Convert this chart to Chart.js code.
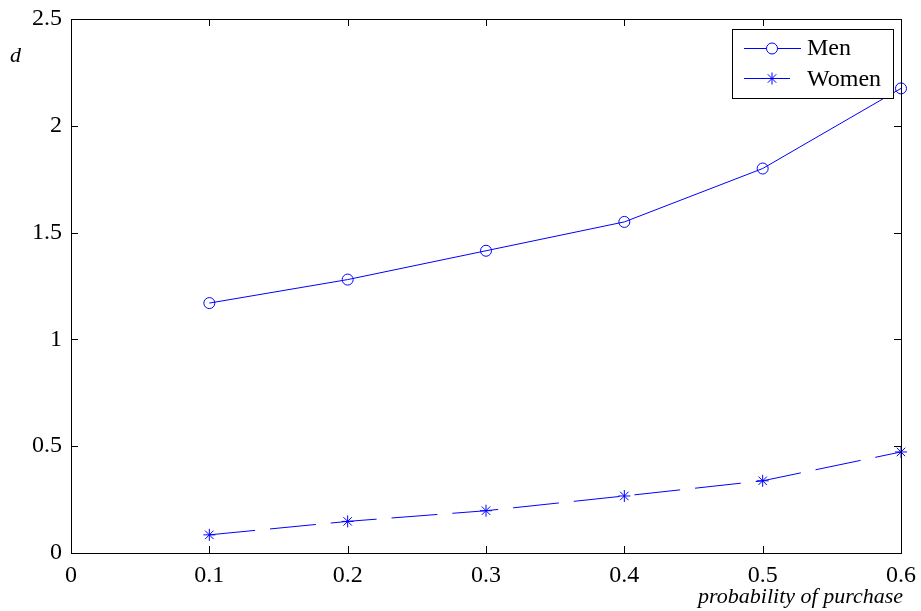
<!DOCTYPE html>
<html>
<head>
<meta charset="utf-8">
<script src="https://cdn.jsdelivr.net/npm/chart.js@4"></script>
<style>
  body { margin: 0; background: #fff; }
  #wrap { width: 921px; height: 611px; }
</style>
</head>
<body>
<div id="wrap"><canvas id="dChart" width="921" height="611"></canvas></div>
<script>
// data
const probs = [0.1, 0.2, 0.3, 0.4, 0.5, 0.6];
const menValues = [1.17, 1.28, 1.415, 1.55, 1.80, 2.175];
const womenValues = [0.085, 0.148, 0.198, 0.267, 0.338, 0.473];
const xTicks = [0, 0.1, 0.2, 0.3, 0.4, 0.5, 0.6];
const yTicks = [0, 0.5, 1, 1.5, 2, 2.5];

const BLUE = '#0000ff';
const SERIF = '"Liberation Serif", "Times New Roman", serif';

function toPoints(xs, ys) {
    return xs.map((x, i) => ({ x: x, y: ys[i] }));
}

// no extra padding for edge labels, chart area set by layout.padding only
function noEdgePadding(s) {
    s.paddingTop = 0;
    s.paddingBottom = 0;
    s.paddingLeft = 0;
    s.paddingRight = 0;
}

// frame, inward ticks, axis labels, legend (MATLAB look)
const matlabFrame = {
    id: 'matlabFrame',
    afterDraw(chart) {
        const ctx = chart.ctx;
        const a = chart.chartArea;
        const sx = chart.scales.x, sy = chart.scales.y;
        const tl = 7;

        ctx.save();
        ctx.strokeStyle = '#000';
        ctx.lineWidth = 1;
        ctx.beginPath();
        xTicks.forEach(v => {
            const px = Math.round(sx.getPixelForValue(v)) + 0.5;
            ctx.moveTo(px, a.bottom); ctx.lineTo(px, a.bottom - tl);
            ctx.moveTo(px, a.top); ctx.lineTo(px, a.top + tl);
        });
        yTicks.forEach(v => {
            const py = Math.round(sy.getPixelForValue(v)) + 0.5;
            ctx.moveTo(a.left, py); ctx.lineTo(a.left + tl, py);
            ctx.moveTo(a.right, py); ctx.lineTo(a.right - tl, py);
        });
        ctx.stroke();
        ctx.strokeRect(Math.round(a.left) + 0.5, Math.round(a.top) + 0.5,
                       Math.round(a.right - a.left), Math.round(a.bottom - a.top));

        // axis labels
        ctx.fillStyle = '#000';
        ctx.font = 'italic 22px ' + SERIF;
        ctx.textAlign = 'left';
        ctx.textBaseline = 'middle';
        ctx.fillText('d', 10, 56);
        ctx.textAlign = 'right';
        ctx.textBaseline = 'alphabetic';
        ctx.fillText('probability of purchase', 903, 603);

        // legend
        const lx = 732, ly = 29, lw = 161, lh = 69;
        ctx.fillStyle = '#fff';
        ctx.fillRect(lx, ly, lw, lh);
        ctx.strokeStyle = '#000';
        ctx.strokeRect(lx + 0.5, ly + 0.5, lw, lh);

        ctx.strokeStyle = BLUE;
        ctx.beginPath();
        ctx.moveTo(744, 48.5); ctx.lineTo(801, 48.5);
        ctx.moveTo(744, 78.5); ctx.lineTo(790, 78.5);
        ctx.stroke();
        Chart.helpers.drawPoint(ctx, { pointStyle: 'circle', radius: 5.5, borderWidth: 1 }, 772, 48.5);
        Chart.helpers.drawPoint(ctx, { pointStyle: 'star', radius: 6, borderWidth: 1 }, 772, 78.5);

        ctx.fillStyle = '#000';
        ctx.font = '24px ' + SERIF;
        ctx.textAlign = 'left';
        ctx.textBaseline = 'middle';
        ctx.fillText('Men', 807, 49);
        ctx.fillText('Women', 807, 80);
        ctx.restore();
    }
};

const ctx = document.getElementById('dChart').getContext('2d');
new Chart(ctx, {
    type: 'line',
    data: {
        datasets: [{
            label: 'Men',
            data: toPoints(probs, menValues),
            borderColor: BLUE,
            borderWidth: 1,
            pointStyle: 'circle',
            pointRadius: 5.5,
            pointBorderWidth: 1,
            pointBackgroundColor: 'rgba(0,0,0,0)',
            pointBorderColor: BLUE,
            tension: 0,
            clip: false
        }, {
            label: 'Women',
            data: toPoints(probs, womenValues),
            borderColor: BLUE,
            borderWidth: 1,
            borderDash: [46, 15],
            pointStyle: 'star',
            pointRadius: 6,
            pointBorderWidth: 1,
            pointBackgroundColor: 'rgba(0,0,0,0)',
            pointBorderColor: BLUE,
            tension: 0,
            clip: false
        }]
    },
    options: {
        responsive: false,
        animation: false,
        devicePixelRatio: 1,
        layout: { padding: { left: 0, top: 19, right: 20, bottom: 0 } },
        plugins: {
            legend: { display: false },
            tooltip: { enabled: false }
        },
        scales: {
            x: {
                type: 'linear',
                min: 0,
                max: 0.6,
                afterFit: s => { s.height = 58; noEdgePadding(s); },
                afterBuildTicks: s => { s.ticks = xTicks.map(v => ({ value: v })); },
                grid: { display: false, drawTicks: false },
                border: { display: false },
                ticks: {
                    padding: 8,
                    color: '#000',
                    font: { family: SERIF, size: 24 },
                    maxRotation: 0,
                    callback: v => String(v)
                }
            },
            y: {
                min: 0,
                max: 2.5,
                afterFit: s => { s.width = 71; noEdgePadding(s); },
                afterBuildTicks: s => { s.ticks = yTicks.map(v => ({ value: v })); },
                grid: { display: false, drawTicks: false },
                border: { display: false },
                ticks: {
                    padding: 9,
                    color: '#000',
                    font: { family: SERIF, size: 24 },
                    callback: v => String(v)
                }
            }
        }
    },
    plugins: [matlabFrame]
});
</script>
</body>
</html>
